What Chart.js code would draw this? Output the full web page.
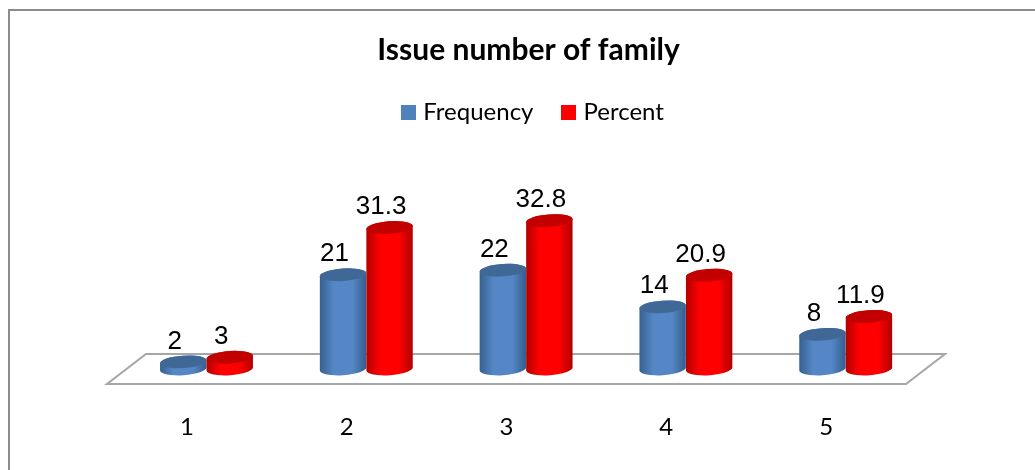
<!DOCTYPE html>
<html><head><meta charset="utf-8">
<style>html,body{margin:0;padding:0;background:#fff}#w{width:1035px;height:470px}</style>
<script src="https://cdn.jsdelivr.net/npm/chart.js@4/dist/chart.umd.min.js"></script>
</head><body><div id="w"><canvas id="c" width="1035" height="470"></canvas></div>
<script>
const categories = ['1','2','3','4','5'];
const frequency = [2,21,22,14,8];
const percent = [3,31.3,32.8,20.9,11.9];
const palettes = [
  {edgeL:'#36608f',mid:'#5587c6',edgeR:'#355d8c',top:'#3f6897'},
  {edgeL:'#b40000',mid:'#ff0000',edgeR:'#b00000',top:'#c20000'}
];
const tilt = -4*Math.PI/180, ry = 6.2;
function swatch(color){
  const s=document.createElement('canvas');s.width=15;s.height=15;
  const x=s.getContext('2d');x.fillStyle=color;x.fillRect(0,0,15,15);return s;
}
const cylinders = {
  id:'cylinders',
  beforeDraw(chart){
    const g=chart.ctx,a=chart.chartArea; g.save();
    chart.titleBlock.left=a.left+5;
    chart.legend.left=a.left+18;
    g.fillStyle='#fff'; g.fillRect(0,0,chart.width,chart.height);
    g.strokeStyle='#8c8c8c'; g.lineWidth=2;
    g.beginPath(); g.moveTo(9,471); g.lineTo(9,10); g.lineTo(1036,10); g.stroke();
    g.restore();
  },
  beforeDatasetsDraw(chart){
    const g=chart.ctx,a=chart.chartArea; g.save();
    g.strokeStyle='#a6a6a6'; g.lineWidth=2; g.lineJoin='miter';
    g.beginPath();
    g.moveTo(a.left-19.6,a.bottom+13); g.lineTo(a.right-19.6,a.bottom+13);
    g.lineTo(a.right+19.4,a.bottom-17); g.lineTo(a.left+19.4,a.bottom-17); g.closePath(); g.stroke();
    g.restore();
  },
  afterDatasetsDraw(chart){
    const g=chart.ctx; g.save();
    chart.data.datasets.forEach((ds,di)=>{
      const p=palettes[di];
      chart.getDatasetMeta(di).data.forEach(bar=>{
        const rx=bar.width/2,cx=bar.x,ty=bar.y,by=bar.base-2;
        const gr=g.createLinearGradient(cx-rx,0,cx+rx,0);
        gr.addColorStop(0,p.edgeL);gr.addColorStop(.3,p.mid);gr.addColorStop(.7,p.mid);gr.addColorStop(1,p.edgeR);
        g.fillStyle=gr;
        g.beginPath();
        g.ellipse(cx,by,rx,ry,tilt,0,Math.PI);
        g.ellipse(cx,ty,rx,ry,tilt,Math.PI,2*Math.PI);
        g.closePath();g.fill();
        g.fillStyle=p.top;
        g.beginPath();g.ellipse(cx,ty,rx,ry,tilt,0,2*Math.PI);g.fill();
      });
    });
    g.fillStyle='#000';g.font='26px "Liberation Sans"';g.textAlign='center';g.textBaseline='middle';
    chart.data.datasets.forEach((ds,di)=>{
      chart.getDatasetMeta(di).data.forEach((bar,i)=>{
        g.fillText(String(ds.data[i]),bar.x-8.5,bar.y-20.5);
      });
    });
    g.restore();
  }
};
new Chart(document.getElementById('c'),{
  type:'bar',
  data:{labels:categories,datasets:[
    {label:'Frequency',data:frequency,backgroundColor:'transparent',borderWidth:0,pointStyle:swatch('#4f81bd')},
    {label:'Percent',data:percent,backgroundColor:'transparent',borderWidth:0,pointStyle:swatch('#ff0000')}
  ]},
  plugins:[cylinders],
  options:{
    responsive:false,animation:false,
    layout:{padding:{left:126.6,right:109.4,top:0,bottom:30}},
    datasets:{bar:{categoryPercentage:0.582,barPercentage:1}},
    plugins:{
      tooltip:{enabled:false},
      title:{display:true,text:'Issue number of family',color:'#000',
        font:{family:'Lato',size:30,weight:'bold',lineHeight:1.2},padding:{top:32,bottom:-1}},
      legend:{position:'top',labels:{color:'#000',usePointStyle:true,pointStyleWidth:5,boxHeight:15,padding:33,
        font:{family:'Lato',size:24}}}
    },
    scales:{
      x:{grid:{display:false},border:{display:false},afterFit(s){s.height=69;},
        ticks:{color:'#000',padding:34,labelOffset:-19.6,maxRotation:0,font:{family:'Lato',size:24}}},
      y:{display:false,min:0,max:51.7}
    }
  }
});
</script></body></html>
